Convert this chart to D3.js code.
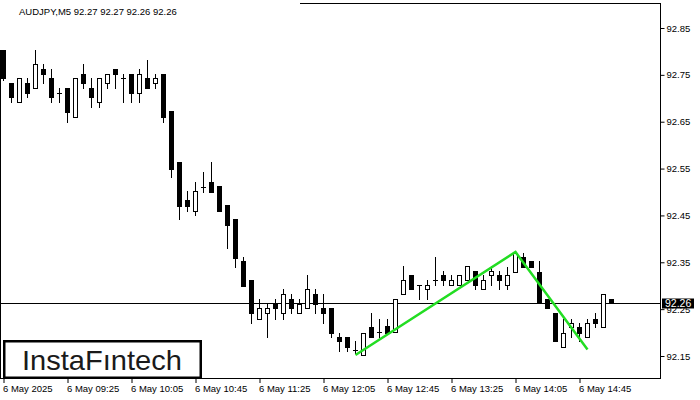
<!DOCTYPE html>
<html>
<head>
<meta charset="utf-8">
<script src="https://cdn.jsdelivr.net/npm/d3@7"></script>
<style>
  html, body { margin: 0; padding: 0; background: #fff; }
  svg { display: block; }
  text { font-family: "Liberation Sans", Arial, sans-serif; }
</style>
</head>
<body>
<svg id="chart" width="700" height="400"></svg>
<script>
// ---- DATA ----
const symbolTitle = "AUDJPY,M5  92.27 92.27 92.26 92.26";
const opens  = [92.803,92.733,92.692,92.733,92.722,92.762,92.743,92.712,92.722,92.660,
                92.752,92.722,92.692,92.733,92.762,92.743,92.752,92.711,92.743,92.733,
                92.752,92.673,92.563,92.483,92.460,92.511,92.522,92.513,92.472,92.442,
                92.353,92.312,92.230,92.241,92.262,92.241,92.271,92.241,92.252,92.282,
                92.252,92.252,92.191,92.191,92.163,92.152,92.211,92.202,92.213,92.201,
                92.282,92.323,92.302,92.292,92.312,92.323,92.302,92.302,92.312,92.332,
                92.292,92.323,92.323,92.302,92.330,92.361,92.353,92.330,92.271,92.241,
                92.170,92.211,92.211,92.191,92.230,92.211,92.271];
const highs  = [92.803,92.733,92.743,92.743,92.803,92.773,92.762,92.722,92.722,92.743,
                92.773,92.743,92.743,92.752,92.762,92.752,92.752,92.762,92.782,92.752,
                92.752,92.673,92.563,92.503,92.522,92.543,92.563,92.513,92.472,92.442,
                92.362,92.312,92.271,92.262,92.271,92.292,92.282,92.271,92.323,92.292,
                92.282,92.252,92.200,92.191,92.181,92.200,92.241,92.230,92.230,92.272,
                92.342,92.323,92.302,92.312,92.362,92.332,92.323,92.323,92.342,92.332,
                92.323,92.342,92.332,92.341,92.369,92.370,92.353,92.353,92.271,92.241,
                92.230,92.230,92.221,92.230,92.241,92.282,92.271];
const lows   = [92.740,92.692,92.692,92.703,92.722,92.733,92.692,92.692,92.649,92.660,
                92.722,92.681,92.681,92.722,92.722,92.692,92.692,92.692,92.722,92.722,
                92.649,92.531,92.442,92.459,92.451,92.501,92.501,92.460,92.381,92.341,
                92.300,92.221,92.230,92.191,92.230,92.230,92.241,92.241,92.252,92.241,
                92.221,92.191,92.161,92.161,92.156,92.152,92.191,92.191,92.200,92.201,
                92.282,92.292,92.271,92.271,92.302,92.302,92.302,92.302,92.312,92.292,
                92.292,92.302,92.292,92.292,92.330,92.341,92.341,92.264,92.252,92.181,
                92.170,92.191,92.181,92.191,92.211,92.211,92.264];
const closes = [92.743,92.703,92.743,92.711,92.773,92.752,92.703,92.712,92.671,92.743,
                92.733,92.703,92.743,92.752,92.752,92.743,92.711,92.752,92.722,92.743,
                92.660,92.549,92.470,92.470,92.503,92.511,92.501,92.460,92.430,92.360,
                92.300,92.241,92.252,92.252,92.252,92.282,92.252,92.262,92.292,92.262,
                92.241,92.200,92.181,92.170,92.163,92.200,92.191,92.202,92.200,92.272,
                92.312,92.292,92.302,92.302,92.312,92.312,92.312,92.323,92.342,92.302,
                92.312,92.332,92.312,92.323,92.369,92.341,92.341,92.264,92.252,92.181,
                92.200,92.221,92.200,92.221,92.221,92.282,92.264];
const currentPrice = 92.264;
const currentLabel = "92.26";
const priceTicks = [92.15, 92.25, 92.35, 92.45, 92.55, 92.65, 92.75, 92.85];
const timeTickIdx = [0, 8, 16, 24, 32, 40, 48, 56, 64, 72];
const timeTickLabels = ["6 May 2025","6 May 09:25","6 May 10:05","6 May 10:45","6 May 11:25",
                        "6 May 12:05","6 May 12:45","6 May 13:25","6 May 14:05","6 May 14:45"];
const patternIdx = [44, 64, 73];
const patternPrice = [92.152, 92.372, 92.164];
const logoText = "InstaFıntech";

// ---- LAYOUT ----
const svg = d3.select("#chart");
const plotL = 0, plotR = 660, plotT = 3, plotB = 378;

const x = d3.scaleLinear().domain([0, 82.125]).range([3, 660]);
const y = d3.scaleLinear().domain([92.15, 92.85]).range([356, 28]);

const candles = opens.map((o, i) => ({ i, o, h: highs[i], l: lows[i], c: closes[i] }));

// frame
svg.append("line").attr("x1", plotR + 0.5).attr("x2", plotR + 0.5).attr("y1", plotT).attr("y2", plotB + 0.5)
  .attr("stroke", "#000");
svg.append("line").attr("x1", plotL).attr("x2", plotR + 1).attr("y1", plotB + 0.5).attr("y2", plotB + 0.5)
  .attr("stroke", "#000");
svg.append("line").attr("x1", 300).attr("x2", plotR + 1).attr("y1", plotT + 0.5).attr("y2", plotT + 0.5)
  .attr("stroke", "#000");
svg.append("line").attr("x1", 0.5).attr("x2", 0.5).attr("y1", 50).attr("y2", plotB)
  .attr("stroke", "#000");

// current price line
const yc = Math.round(y(currentPrice)) + 0.5;
svg.append("line").attr("x1", 0).attr("x2", plotR).attr("y1", yc).attr("y2", yc)
  .attr("stroke", "#000").attr("stroke-width", 1);

// candles
const g = svg.append("g");
const cx = d => Math.round(x(d.i));
g.selectAll("line.wick").data(candles).join("line")
  .attr("class", "wick")
  .attr("x1", d => cx(d) + 0.5).attr("x2", d => cx(d) + 0.5)
  .attr("y1", d => Math.round(y(d.h))).attr("y2", d => Math.round(y(d.l)) + 1)
  .attr("stroke", "#000").attr("stroke-width", 1);

g.selectAll("g.body").data(candles).join(d => {
  const s = d.append("g").attr("class", "body");
  s.each(function(d) {
    const top = Math.round(y(Math.max(d.o, d.c)));
    const bot = Math.round(y(Math.min(d.o, d.c)));
    const sel = d3.select(this);
    if (bot - top < 1) {
      sel.append("line").attr("x1", cx(d) - 2).attr("x2", cx(d) + 3)
        .attr("y1", top + 0.5).attr("y2", top + 0.5).attr("stroke", "#000");
    } else if (d.c < d.o) {
      sel.append("rect").attr("x", cx(d) - 2).attr("y", top).attr("width", 5).attr("height", bot - top + 1)
        .attr("fill", "#000");
    } else {
      sel.append("rect").attr("x", cx(d) - 1.5).attr("y", top + 0.5).attr("width", 4).attr("height", bot - top)
        .attr("fill", "#fff").attr("stroke", "#000").attr("stroke-width", 1);
    }
  });
  return s;
});

// pattern lines
const line = d3.line().x(d => x(d[0]) + 0.5).y(d => y(d[1]));
svg.append("path").datum(patternIdx.map((v, k) => [v, patternPrice[k]]))
  .attr("d", line).attr("fill", "none").attr("stroke", "#22dd22").attr("stroke-width", 2.5)
  .attr("stroke-linejoin", "miter");

// y axis
const yAxis = d3.axisRight(y).tickValues(priceTicks).tickSize(4).tickPadding(2).tickFormat(d3.format(".2f"));
const ya = svg.append("g").attr("transform", `translate(${plotR + 0.5},0)`).call(yAxis);
ya.select(".domain").remove();
ya.selectAll("text").attr("font-family", "Liberation Sans, Arial, sans-serif").attr("font-size", 9.5)
  .attr("fill", "#000");

// current price label
const lblG = svg.append("g");
lblG.append("rect").attr("x", 662).attr("y", yc - 5).attr("width", 32).attr("height", 10).attr("fill", "#000");
lblG.append("text").attr("x", 665).attr("y", yc).attr("dy", "0.35em").attr("font-size", 10.5)
  .attr("fill", "#fff").text(currentLabel);

// x axis
const xAxis = d3.axisBottom(x).tickValues(timeTickIdx).tickSize(5).tickPadding(2)
  .tickFormat((d, k) => timeTickLabels[k]);
const xa = svg.append("g").attr("transform", `translate(0.5,${plotB})`).call(xAxis);
xa.select(".domain").remove();
xa.selectAll("text").attr("text-anchor", "start").attr("dx", "-1").attr("font-family", "Liberation Sans, Arial, sans-serif")
  .attr("font-size", 9.5).attr("fill", "#000");

// title
svg.append("text").attr("x", 19).attr("y", 15).attr("font-size", 9.5).attr("fill", "#000").text(symbolTitle);

// logo
svg.append("rect").attr("x", 4.25).attr("y", 341.25).attr("width", 196.5).attr("height", 36.5)
  .attr("fill", "#fff").attr("stroke", "#000").attr("stroke-width", 2.5);
svg.append("text").attr("x", 22).attr("y", 369.5).attr("font-family", "Lato, 'Open Sans', sans-serif")
  .attr("font-weight", 500).attr("font-size", 28).attr("fill", "#1a1a1a")
  .attr("textLength", 160).attr("lengthAdjust", "spacingAndGlyphs").text(logoText);
</script>
</body>
</html>
